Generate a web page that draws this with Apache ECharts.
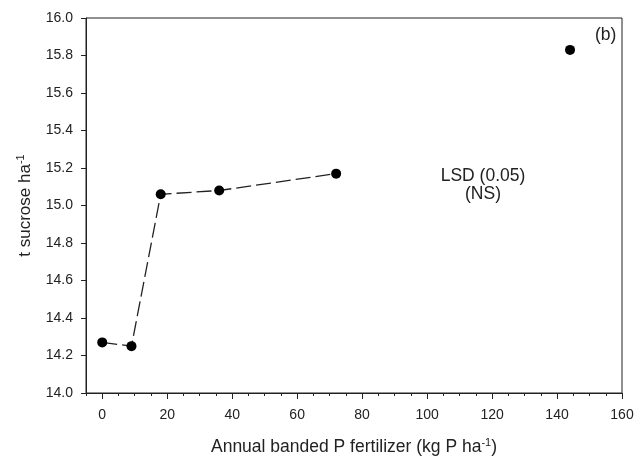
<!DOCTYPE html>
<html>
<head>
<meta charset="utf-8">
<script src="https://cdn.jsdelivr.net/npm/echarts@6/dist/echarts.min.js"></script>
<style>
  html, body { margin: 0; padding: 0; background: #fff; }
  #chart { width: 637px; height: 457px; }
</style>
</head>
<body>
<div id="chart"></div>
<script>
// P rate (kg P/ha) and sucrose yield (t/ha)
const pRates = [0, 9, 18, 36, 72, 144];
const sucrose = [14.27, 14.25, 15.06, 15.08, 15.17, 15.83];
// first five points are joined by the dashed line
const joinedCount = 5;
const xTicks = [0, 20, 40, 60, 80, 100, 120, 140, 160];
const yTicks = [14.0, 14.2, 14.4, 14.6, 14.8, 15.0, 15.2, 15.4, 15.6, 15.8, 16.0];

const font = "Liberation Sans, Arial, sans-serif";
const ink = "#222";

const points = pRates.map((x, i) => [x, sucrose[i]]);
const joined = points.slice(0, joinedCount);

// plot box: x from -5 to 160; a second grid starting at x=0 carries the labelled axis
const gLeft = 86, gRight = 637 - 622, gTop = 18, gBottom = 457 - 393;
const xMin = -5, xMax = 160;
const plotW = 637 - gLeft - gRight;
const left2 = gLeft + (0 - xMin) / (xMax - xMin) * plotW;

const supStyle = { fontSize: 11, verticalAlign: "top", padding: [0, 0, 9, 0], color: ink, fontFamily: font };

var myChart = echarts.init(document.getElementById("chart"));
var option = {
  animation: false,
  textStyle: { fontFamily: font },
  grid: [
    {
      left: gLeft, right: gRight, top: gTop, bottom: gBottom,
      outerBoundsMode: "none",
      show: true, borderColor: ink, borderWidth: 1
    },
    { left: left2, right: gRight, top: gTop, bottom: gBottom, outerBoundsMode: "none" }
  ],
  xAxis: [
    {
      // minor ticks every 5
      gridIndex: 0,
      type: "value",
      min: xMin,
      max: xMax,
      interval: 5,
      axisLine: { show: true, onZero: false, lineStyle: { color: ink, width: 1 } },
      axisTick: { show: true, inside: false, length: 3, lineStyle: { color: ink } },
      axisLabel: { show: false },
      splitLine: { show: false },
      name: "Annual banded P fertilizer (kg P ha{sup|-1})",
      nameLocation: "middle",
      nameGap: 44,
      nameTextStyle: {
        color: ink, fontSize: 17.5, fontFamily: font,
        rich: { sup: supStyle }
      }
    },
    {
      // major ticks + labels every 20
      gridIndex: 1,
      type: "value",
      min: xTicks[0],
      max: xTicks[xTicks.length - 1],
      interval: 20,
      axisLine: { show: false },
      axisTick: { show: true, length: 6, lineStyle: { color: ink } },
      axisLabel: { color: ink, fontSize: 14, margin: 15, fontFamily: font },
      splitLine: { show: false }
    }
  ],
  yAxis: [
    {
      gridIndex: 0,
      type: "value",
      min: yTicks[0],
      max: yTicks[yTicks.length - 1],
      interval: 0.2,
      axisLine: { show: true, onZero: false, lineStyle: { color: ink, width: 1 } },
      axisTick: { show: true, length: 5, lineStyle: { color: ink } },
      axisLabel: {
        color: ink, fontSize: 14, margin: 13, fontFamily: font,
        formatter: (v) => v.toFixed(1)
      },
      splitLine: { show: false },
      name: "t sucrose ha{sup|-1}",
      nameLocation: "middle",
      nameGap: 51,
      nameTextStyle: {
        color: ink, fontSize: 17, fontFamily: font,
        rich: { sup: supStyle }
      }
    },
    {
      gridIndex: 1,
      type: "value",
      min: yTicks[0],
      max: yTicks[yTicks.length - 1],
      show: false
    }
  ],
  series: [
    {
      type: "line",
      xAxisIndex: 0,
      yAxisIndex: 0,
      data: joined,
      symbol: "none",
      lineStyle: { color: ink, width: 1.3, type: [15, 5] },
      z: 2
    },
    {
      type: "scatter",
      xAxisIndex: 0,
      yAxisIndex: 0,
      data: points,
      symbol: "circle",
      symbolSize: 10,
      itemStyle: { color: "#000", opacity: 1 },
      z: 3
    }
  ],
  graphic: [
    {
      type: "text",
      left: 595, top: 26,
      style: { text: "(b)", fill: ink, font: "17.5px " + font }
    },
    {
      type: "text",
      x: 483, y: 167,
      style: {
        text: "LSD (0.05)\n(NS)", fill: ink, font: "17.5px " + font,
        align: "center", verticalAlign: "top", lineHeight: 18
      }
    }
  ]
};
myChart.setOption(option);
</script>
</body>
</html>
